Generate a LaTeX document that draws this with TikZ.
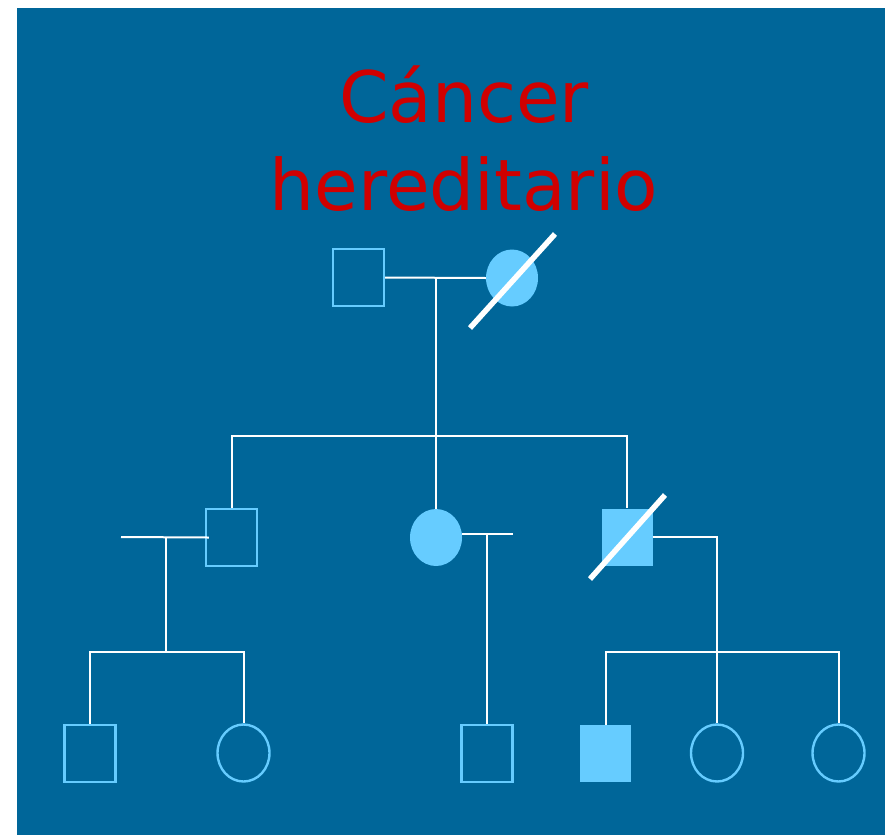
\documentclass[tikz,border=0pt]{standalone}
\usepackage{fontspec}
\setmainfont{DejaVu Sans}
\usepackage{xcolor}
\usepackage{tikz}
\usetikzlibrary{positioning, shapes.geometric}
\definecolor{fondoazul}{HTML}{006699}
\definecolor{celeste}{HTML}{66CCFF}
\definecolor{rojotitulo}{HTML}{D00000}

\begin{document}
\begin{tikzpicture}[
    x=1pt, y=-1pt,
    varon/.style={rectangle, minimum width=51pt, minimum height=57pt, inner sep=0pt},
    mujer/.style={ellipse, minimum width=52pt, minimum height=57pt, inner sep=0pt},
    sano/.style={draw=celeste, line width=2.4pt},
    afectado/.style={fill=celeste},
    linea/.style={draw=white, line width=2pt},
    fallecido/.style={draw=white, line width=5.5pt}
]
\useasboundingbox (0,0) rectangle (885,835);
\fill[fondoazul] (17,8) rectangle (885,835);

\node[font=\fontsize{71}{88}\selectfont, color=rojotitulo, align=center, anchor=base]
    (titulo) at (464,210) {Cáncer\\hereditario};

% primera generacion
\node[varon, sano] (abuelo) at (358.5,277.5) {};
\node[mujer, afectado] (abuela) at (512,278) {};
\draw[fallecido] (abuela.center) ++(-42,50) -- ++(85,-94);

% segunda generacion
\node[varon, sano] (hijo) at (231.5,537.5) {};
\node[mujer, afectado] (hija) at (436,537.5) {};
\node[varon, afectado] (hijoB) at (627,537) {};
\draw[fallecido] (hijoB.center) ++(-37,42) -- ++(75,-84);

% tercera generacion
\node[varon, sano] (nieto1) at (90,753.5) {};
\node[mujer, sano] (nieta1) at (243.5,753) {};
\node[varon, sano] (nieto2) at (487,753.5) {};
\node[varon, afectado] (nieto3) at (605.5,753.5) {};
\node[mujer, sano] (nieta2) at (717,753) {};
\node[mujer, sano] (nieta3) at (838.5,753) {};

% uniones y descendencia
\coordinate (u1) at (436,278);
\coordinate (s1) at (436,436);
\draw[linea] (abuelo.east) -- (abuela.west);
\draw[linea] (u1) -- (s1) -- (hija.north);
\draw[linea] (hijo.north) |- (s1) -| (hijoB.north);

\coordinate (pareja1) at (121,537);
\coordinate (u2) at (166,537);
\coordinate (s2) at (166,652);
\draw[linea] (pareja1) -- ([xshift=4pt]hijo.west);
\draw[linea] (u2) -- (s2);
\draw[linea] (nieto1.north) |- (s2) -| (nieta1.north);

\coordinate (pareja2) at (513,534);
\coordinate (u3) at (487,534);
\draw[linea] (hija.east |- pareja2) -- (pareja2);
\draw[linea] (u3) -- (nieto2.north);

\coordinate (s3) at (717,652);
\draw[linea] (hijoB.east) -| (nieta2.north);
\draw[linea] (nieto3.north) |- (s3) -| (nieta3.north);
\end{tikzpicture}
\end{document}
